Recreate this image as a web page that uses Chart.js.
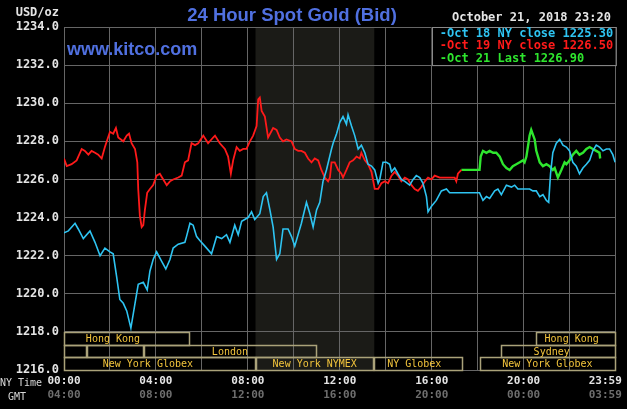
<!DOCTYPE html>
<html>
<head>
<meta charset="utf-8">
<script src="https://cdn.jsdelivr.net/npm/chart.js@4.4.0/dist/chart.umd.min.js"></script>
<style>
  html, body { margin: 0; padding: 0; background: #000; }
</style>
</head>
<body>
<canvas id="myChart" width="627" height="409"></canvas>
<script>
const myChart = document.getElementById("myChart");

// hours since 00:00 NY time / bid price
const oct18Hours = [0, 0.19, 0.48, 0.62, 0.84, 1.13, 1.35, 1.57, 1.78, 2.0,
  2.14, 2.29, 2.43, 2.58, 2.73, 2.91, 3.09, 3.23, 3.45, 3.62,
  3.74, 3.88, 4.03, 4.25, 4.43, 4.61, 4.75, 4.97, 5.26, 5.33,
  5.48, 5.62, 5.77, 5.91, 6.13, 6.42, 6.64, 6.86, 7.07, 7.22,
  7.43, 7.58, 7.73, 8.01, 8.16, 8.30, 8.52, 8.67, 8.81, 8.96,
  9.10, 9.25, 9.39, 9.53, 9.75, 9.90, 10.04, 10.33, 10.55, 10.70,
  10.84, 10.99, 11.13, 11.27, 11.42, 11.64, 11.71, 11.86, 12.0, 12.14,
  12.29, 12.36, 12.51, 12.65, 12.80, 12.94, 13.09, 13.23, 13.38, 13.52,
  13.67, 13.74, 13.88, 14.03, 14.17, 14.25, 14.39, 14.53, 14.68, 14.83,
  15.04, 15.19, 15.33, 15.48, 15.62, 15.77, 15.84, 15.99, 16.20, 16.42,
  16.64, 16.78, 16.93, 18.08, 18.23, 18.38, 18.52, 18.74, 18.88, 19.03,
  19.25, 19.47, 19.61, 19.75, 19.97, 20.12, 20.26, 20.40, 20.55, 20.70,
  20.84, 20.99, 21.09, 21.17, 21.27, 21.42, 21.57, 21.71, 21.86, 22.0,
  22.14, 22.29, 22.43, 22.58, 22.73, 22.87, 23.01, 23.16, 23.30, 23.45,
  23.60, 23.74, 23.88, 23.98];
const oct18Prices = [1223.2, 1223.3, 1223.7, 1223.4, 1222.9, 1223.3, 1222.7, 1222.0, 1222.4, 1222.2,
  1222.1, 1220.9, 1219.7, 1219.5, 1219.1, 1218.2, 1219.5, 1220.5, 1220.6, 1220.2,
  1221.2, 1221.8, 1222.2, 1221.7, 1221.3, 1221.8, 1222.4, 1222.6, 1222.7, 1223.0,
  1223.7, 1223.6, 1223.0, 1222.8, 1222.5, 1222.1, 1223.0, 1222.9, 1223.1, 1222.7,
  1223.6, 1223.1, 1223.8, 1224.0, 1224.3, 1223.9, 1224.2, 1225.1, 1225.3, 1224.4,
  1223.5, 1221.8, 1222.1, 1223.4, 1223.4, 1223.0, 1222.5, 1223.7, 1224.8, 1224.2,
  1223.5, 1224.4, 1224.8, 1225.9, 1226.5, 1227.6, 1227.9, 1228.4, 1229.0, 1229.3,
  1228.9, 1229.4, 1228.8, 1228.3, 1227.6, 1227.8, 1227.4, 1226.8, 1226.7, 1226.5,
  1225.8, 1226.0, 1226.9, 1226.9, 1226.8, 1226.4, 1226.6, 1226.3, 1226.0, 1225.9,
  1225.7, 1226.0, 1226.2, 1226.1, 1225.8, 1225.1, 1224.3, 1224.6, 1224.9, 1225.4,
  1225.5, 1225.3, 1225.3, 1225.3, 1224.9, 1225.1, 1225.0, 1225.4, 1225.5, 1225.2,
  1225.7, 1225.6, 1225.7, 1225.5, 1225.5, 1225.5, 1225.5, 1225.4, 1225.4, 1225.1,
  1225.2, 1224.9, 1224.8, 1226.3, 1227.4, 1227.9, 1228.1, 1227.8, 1227.7, 1227.5,
  1226.9, 1226.7, 1226.3, 1226.6, 1226.8, 1227.0, 1227.5, 1227.8, 1227.7, 1227.5,
  1227.6, 1227.6, 1227.3, 1226.9];

const oct19Hours = [0, 0.12, 0.33, 0.55, 0.77, 0.91, 1.06, 1.20, 1.35, 1.49,
  1.64, 1.78, 2.0, 2.14, 2.26, 2.36, 2.58, 2.73, 2.83, 2.94,
  3.09, 3.19, 3.23, 3.30, 3.38, 3.45, 3.52, 3.62, 3.74, 3.88,
  4.03, 4.17, 4.32, 4.47, 4.61, 4.75, 4.97, 5.12, 5.26, 5.40,
  5.55, 5.70, 5.84, 6.06, 6.27, 6.49, 6.57, 6.78, 7.0, 7.14,
  7.26, 7.36, 7.51, 7.65, 7.80, 7.94, 8.09, 8.23, 8.38, 8.45,
  8.52, 8.60, 8.74, 8.88, 9.10, 9.25, 9.39, 9.53, 9.68, 9.90,
  10.04, 10.19, 10.33, 10.48, 10.62, 10.77, 10.91, 11.06, 11.20, 11.35, 11.49,
  11.57, 11.64, 11.78, 11.93, 12.07, 12.14, 12.29, 12.43, 12.58, 12.73,
  12.87, 12.94, 13.09, 13.23, 13.38, 13.52, 13.67, 13.81, 13.96, 14.10,
  14.25, 14.39, 14.53, 14.68, 14.83, 14.97, 15.12, 15.26, 15.40, 15.55,
  15.70, 15.84, 15.99, 16.13, 16.35, 16.57, 16.78, 17.0, 17.07, 17.14, 17.29];
const oct19Prices = [1227.1, 1226.7, 1226.8, 1227.0, 1227.6, 1227.5, 1227.3, 1227.5, 1227.4, 1227.3,
  1227.1, 1227.7, 1228.5, 1228.4, 1228.7, 1228.2, 1228.0, 1228.3, 1228.4, 1227.9,
  1227.6, 1226.9, 1225.5, 1224.1, 1223.5, 1223.6, 1224.4, 1225.3, 1225.5, 1225.7,
  1226.2, 1226.3, 1226.0, 1225.7, 1225.9, 1226.0, 1226.1, 1226.2, 1226.9, 1227.0,
  1227.9, 1227.8, 1227.9, 1228.3, 1227.9, 1228.2, 1228.3, 1227.9, 1227.6, 1227.2,
  1226.3, 1227.0, 1227.7, 1227.5, 1227.6, 1227.6, 1228.0, 1228.3, 1228.8, 1230.2,
  1230.3, 1229.6, 1229.3, 1228.2, 1228.7, 1228.6, 1228.2, 1228.0, 1228.1, 1228.0,
  1227.6, 1227.5, 1227.5, 1227.4, 1227.1, 1226.9, 1227.1, 1227.0, 1226.5, 1226.1, 1225.9,
  1226.1, 1226.9, 1226.9, 1226.5, 1226.3, 1226.1, 1226.5, 1226.9, 1227.0, 1227.2,
  1227.1, 1227.4, 1227.0, 1226.8, 1226.4, 1225.5, 1225.5, 1225.8, 1225.9, 1225.8,
  1226.2, 1226.4, 1226.2, 1225.9, 1226.1, 1226.0, 1225.7, 1225.5, 1225.4, 1225.6,
  1225.9, 1226.1, 1226.0, 1226.2, 1226.1, 1226.1, 1226.1, 1226.1, 1225.9, 1226.3, 1226.5];

const oct21Hours = [17.29, 18.08, 18.13, 18.23, 18.38, 18.52, 18.67, 18.81, 18.96,
  19.10, 19.25, 19.39, 19.53, 19.68, 19.83, 19.97, 20.04,
  20.12, 20.26, 20.33, 20.48, 20.55, 20.70, 20.84, 20.99,
  21.13, 21.27, 21.35, 21.49, 21.64, 21.78, 21.86, 22.0,
  22.14, 22.29, 22.43, 22.58, 22.73, 22.87, 23.01, 23.16, 23.30, 23.33];
const oct21Prices = [1226.5, 1226.5, 1227.2, 1227.5, 1227.4, 1227.5, 1227.4, 1227.4, 1227.2,
  1226.8, 1226.6, 1226.5, 1226.7, 1226.8, 1226.9, 1227.0, 1226.9,
  1227.2, 1228.3, 1228.6, 1228.1, 1227.5, 1226.9, 1226.7, 1226.8,
  1226.7, 1226.5, 1226.6, 1226.1, 1226.5, 1226.9, 1226.8, 1227.0,
  1227.3, 1227.5, 1227.3, 1227.4, 1227.6, 1227.7, 1227.6, 1227.5, 1227.4, 1227.1];

const seriesLabels = ["-Oct 18 NY close 1225.30", "-Oct 19 NY close 1226.50", "-Oct 21 Last 1226.90"];
const seriesColors = ["#2ec4f2", "#ff1a1a", "#2ee62e"];

// x axis labels (last one pulled in so it stays on the canvas)
const tickHours = [0, 4, 8, 12, 16, 20, 23.55];
const nyTimeLabels = ["00:00", "04:00", "08:00", "12:00", "16:00", "20:00", "23:59"];
const gmtLabels = ["04:00", "08:00", "12:00", "16:00", "20:00", "00:00", "03:59"];

// market sessions, hours NY time
const sessionNames = ["Hong Kong", "", "", "London", "New York Globex", "New York NYMEX", "NY Globex", "New York Globex", "Sydney", "Hong Kong"];
const sessionStart = [0, 0, 1, 3.5, 0, 8.333, 13.5, 18.08, 19, 20.55];
const sessionEnd = [5.5, 1, 3.5, 11, 8.333, 13.5, 17.37, 24, 24, 24];
const sessionRow = [0, 1, 1, 1, 2, 2, 2, 2, 1, 0];
const sessionLabelAt = [2.13, 0, 0, 7.22, 3.65, 10.91, 15.24, 21.03, 21.22, 22.09];

// NYMEX pit hours (shaded)
const nymexOpen = 8.333;
const nymexClose = 13.5;

const toPoints = (hours, prices) => hours.map((h, i) => ({ x: h, y: prices[i] }));

const gridColor = "#666666";
const mono = "\"DejaVu Sans Mono\", monospace";

const backdrop = {
  id: "backdrop",
  beforeDraw(chart) {
    const { ctx, chartArea, scales } = chart;
    ctx.save();
    ctx.fillStyle = "#000";
    ctx.fillRect(0, 0, chart.width, chart.height);
    const x0 = scales.x.getPixelForValue(nymexOpen);
    const x1 = scales.x.getPixelForValue(nymexClose);
    ctx.fillStyle = "#1b1b17";
    ctx.fillRect(x0, chartArea.top, x1 - x0, chartArea.bottom - chartArea.top);
    ctx.restore();
  },
};

const overlay = {
  id: "overlay",
  afterDraw(chart) {
    const { ctx, chartArea, scales } = chart;
    const x = scales.x;
    const y = scales.y;
    ctx.save();

    // sessions
    const rowEdges = [1218, 1217.333, 1216.667, 1216];
    ctx.font = "10px " + mono;
    ctx.textBaseline = "middle";
    ctx.textAlign = "center";
    sessionNames.forEach((name, i) => {
      const r = sessionRow[i];
      const top = Math.round(y.getPixelForValue(rowEdges[r])) + 0.5;
      const bottom = Math.round(y.getPixelForValue(rowEdges[r + 1])) + 0.5;
      const left = Math.round(x.getPixelForValue(sessionStart[i])) + 0.5;
      const right = Math.round(x.getPixelForValue(sessionEnd[i])) - 0.5;
      ctx.strokeStyle = "#aaa27a";
      ctx.lineWidth = 1.5;
      ctx.strokeRect(left, top, right - left, bottom - top);
      if (name) {
        ctx.fillStyle = "#f2c43c";
        ctx.fillText(name, x.getPixelForValue(sessionLabelAt[i]), (top + bottom) / 2 + 0.5);
      }
    });

    // legend box
    const lx0 = x.getPixelForValue(16);
    const lx1 = chartArea.right;
    const ly1 = y.getPixelForValue(1232);
    ctx.fillStyle = "#000";
    ctx.fillRect(lx0, chartArea.top, lx1 - lx0, ly1 - chartArea.top);
    ctx.strokeStyle = "#8a8a8a";
    ctx.lineWidth = 1;
    ctx.strokeRect(Math.round(lx0) + 0.5, Math.round(chartArea.top) + 0.5, lx1 - lx0, ly1 - chartArea.top);
    ctx.font = "bold 12px " + mono;
    ctx.textAlign = "left";
    seriesLabels.forEach((t, i) => {
      ctx.fillStyle = seriesColors[i];
      ctx.fillText(t, lx0 + 8, chartArea.top + 6.5 + i * 12.5);
    });

    // header
    ctx.fillStyle = "#e4e4e4";
    ctx.font = "bold 12px " + mono;
    ctx.textAlign = "right";
    ctx.fillText("USD/oz", chartArea.left - 5, 13);
    ctx.textAlign = "left";
    ctx.fillText("October 21, 2018 23:20", 452, 18);

    ctx.fillStyle = "#5070e0";
    ctx.textBaseline = "alphabetic";
    ctx.font = "bold 18.5px \"Liberation Sans\", Arial, sans-serif";
    ctx.textAlign = "center";
    ctx.fillText("24 Hour Spot Gold (Bid)", 292, 21);
    ctx.font = "bold 18px \"Liberation Sans\", Arial, sans-serif";
    ctx.textAlign = "left";
    ctx.fillText("www.kitco.com", 67, 55);

    // axis captions
    ctx.textBaseline = "middle";
    ctx.font = "10px " + mono;
    ctx.fillStyle = "#d8d8d8";
    ctx.fillText("NY Time", 0, 383);
    ctx.fillText("GMT", 8, 397);
    ctx.restore();
  },
};

new Chart(myChart, {
  type: "line",
  data: {
    datasets: [
      { label: seriesLabels[0], data: toPoints(oct18Hours, oct18Prices), borderColor: seriesColors[0], borderWidth: 1.6 },
      { label: seriesLabels[1], data: toPoints(oct19Hours, oct19Prices), borderColor: seriesColors[1], borderWidth: 1.8 },
      { label: seriesLabels[2], data: toPoints(oct21Hours, oct21Prices), borderColor: seriesColors[2], borderWidth: 2.4 },
    ],
  },
  options: {
    responsive: false,
    devicePixelRatio: 1,
    animation: false,
    elements: { point: { radius: 0 }, line: { tension: 0 } },
    layout: { padding: { top: 27, right: 11, bottom: 11, left: 0 } },
    plugins: { legend: { display: false }, tooltip: { enabled: false } },
    scales: {
      x: {
        type: "linear", min: 0, max: 24, weight: 0,
        ticks: { display: false, stepSize: 2 },
        grid: { color: gridColor, drawTicks: false },
        border: { display: false },
      },
      xNY: {
        type: "linear", min: 0, max: 24, position: "bottom", weight: 1,
        grid: { display: false, drawTicks: false },
        border: { display: false },
        afterBuildTicks: (s) => { s.ticks = tickHours.map((v) => ({ value: v })); },
        ticks: {
          autoSkip: false, maxRotation: 0, padding: 5,
          color: "#e4e4e4", font: { family: mono, size: 11, weight: "bold" },
          callback: (v, i) => nyTimeLabels[i],
        },
        afterFit: (s) => { s.height = 14; },
      },
      xGMT: {
        type: "linear", min: 0, max: 24, position: "bottom", weight: 2,
        grid: { display: false, drawTicks: false },
        border: { display: false },
        afterBuildTicks: (s) => { s.ticks = tickHours.map((v) => ({ value: v })); },
        ticks: {
          autoSkip: false, maxRotation: 0, padding: 5,
          color: "#6e6e6e", font: { family: mono, size: 11, weight: "bold" },
          callback: (v, i) => gmtLabels[i],
        },
        afterFit: (s) => { s.height = 14; },
      },
      y: {
        min: 1216, max: 1234,
        ticks: {
          stepSize: 2, padding: 5,
          color: "#e4e4e4", font: { family: mono, size: 12, weight: "bold" },
          callback: (v) => v.toFixed(1),
        },
        grid: { color: gridColor, drawTicks: false },
        border: { display: false },
        afterFit: (s) => { s.width = 64; },
      },
    },
  },
  plugins: [backdrop, overlay],
});
</script>
</body>
</html>
